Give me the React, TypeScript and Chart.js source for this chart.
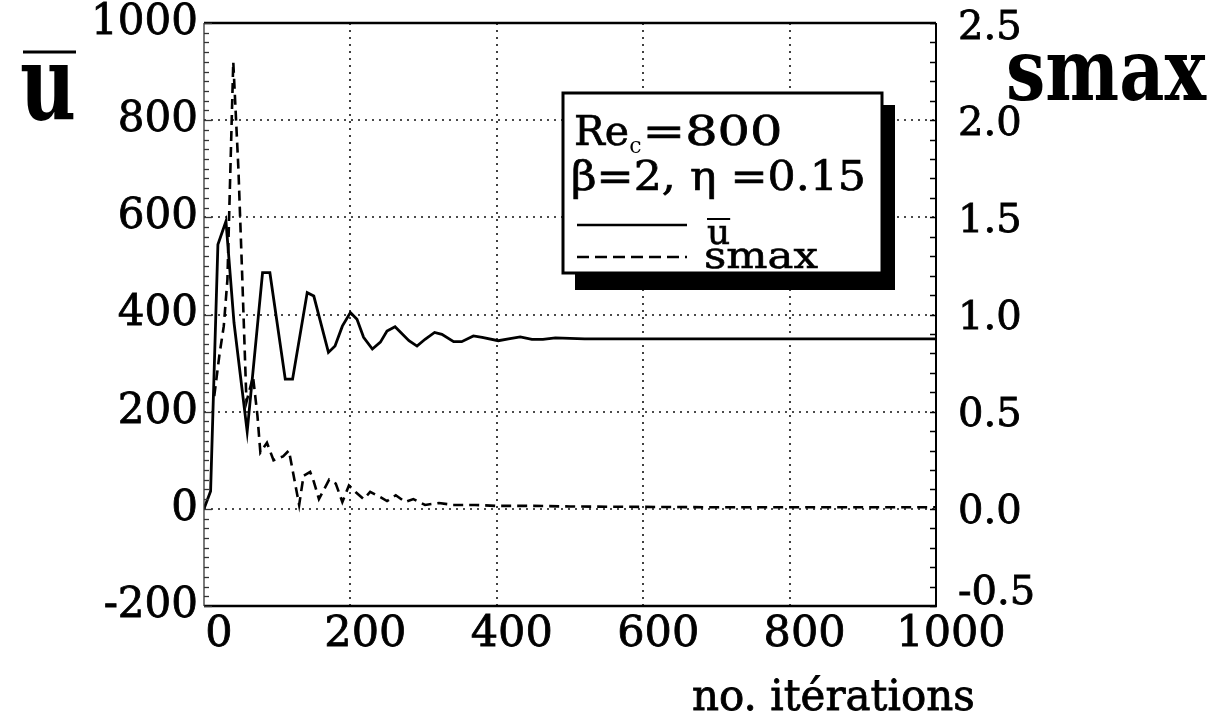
import React, { useEffect, useRef } from "react";
import { Chart, registerables } from "chart.js";

Chart.register(...registerables);

const FONT = "'DejaVu Serif', 'Liberation Serif', serif";

// ū (left axis) versus iteration number
const iterU = [0, 9, 19, 30, 41, 59, 80, 90, 111, 121, 141, 150, 170, 179, 189, 200, 209, 218, 230, 241, 250, 261, 280, 291, 302, 315, 325, 341, 352, 368, 380, 402, 416, 432, 448, 463, 480, 520, 600, 700, 800, 900, 1000];
const uBar = [0, 36, 544, 592, 383, 159, 486, 486, 267, 267, 445, 438, 322, 335, 376, 404, 390, 353, 329, 343, 366, 375, 346, 335, 349, 363, 359, 344, 344, 356, 353, 346, 350, 354, 349, 349, 352, 350, 350, 350, 350, 350, 350];

// smax (right axis) versus iteration number
const iterS = [14, 21, 27, 32, 35, 40, 47, 52, 58, 67, 73, 77, 86, 95, 108, 116, 130, 136, 145, 150, 157, 164, 171, 180, 189, 198, 207, 218, 227, 241, 250, 262, 275, 286, 302, 321, 340, 370, 400, 450, 500, 600, 700, 800, 900, 1000];
const smax = [0.58, 0.79, 0.94, 1.18, 1.6, 2.3, 1.75, 1.22, 0.55, 0.68, 0.48, 0.29, 0.34, 0.25, 0.27, 0.3, 0.02, 0.17, 0.19, 0.14, 0.05, 0.1, 0.15, 0.13, 0.035, 0.12, 0.087, 0.05, 0.087, 0.06, 0.04, 0.07, 0.035, 0.05, 0.02, 0.03, 0.02, 0.02, 0.015, 0.015, 0.012, 0.01, 0.008, 0.008, 0.008, 0.008];

// axes
const xRange = [0, 1000];
const xStep = 200;
const uRange = [-200, 1000];
const uStep = 200;
const sRange = [-0.5, 2.5];
const sStep = 0.5;
const xGrid = [200, 400, 600, 800];
const uGrid = [0, 200, 400, 600, 800];

// texts
const xTitle = "no. itérations";
const uTitle = "u";
const sTitle = "smax";
const legendLine1 = ["Re", "c", "=800"];
const legendLine2 = "β=2, η =0.15";
const legendU = "u";
const legendS = "smax";

function drawScaled(ctx: CanvasRenderingContext2D, text: string, x: number, y: number, font: string, width?: number, stroke = 0) {
  ctx.font = font;
  const m = ctx.measureText(text).width;
  ctx.save();
  ctx.translate(x, y);
  if (width) ctx.scale(width / m, 1);
  ctx.fillText(text, 0, 0);
  if (stroke > 0) {
    ctx.lineWidth = stroke;
    ctx.setLineDash([]);
    ctx.strokeText(text, 0, 0);
  }
  ctx.restore();
  return width ?? m;
}

function seg(ctx: CanvasRenderingContext2D, x1: number, y1: number, x2: number, y2: number) {
  ctx.beginPath();
  ctx.moveTo(x1, y1);
  ctx.lineTo(x2, y2);
  ctx.stroke();
}

const decor = {
  id: "decor",
  beforeDatasetsDraw(chart: any) {
    const { ctx, chartArea: a, scales } = chart;
    ctx.save();
    ctx.strokeStyle = "#111";
    ctx.lineWidth = 1.6;
    ctx.setLineDash([2, 5]);
    for (const v of xGrid) {
      const px = Math.round(scales.x.getPixelForValue(v));
      seg(ctx, px, a.top, px, a.bottom);
    }
    for (const v of uGrid) {
      const py = Math.round(scales.y.getPixelForValue(v));
      seg(ctx, a.left, py, a.right, py);
    }
    ctx.restore();
  },
  afterDraw(chart: any) {
    const { ctx, chartArea: a, scales } = chart;
    ctx.save();
    ctx.strokeStyle = "#000";
    ctx.fillStyle = "#000";
    ctx.setLineDash([]);
    // frame
    ctx.lineWidth = 2.5;
    seg(ctx, a.left, a.top, a.right, a.top);
    seg(ctx, a.left, a.bottom, a.right + 1, a.bottom);
    ctx.lineWidth = 2;
    seg(ctx, a.right, a.top, a.right, a.bottom);
    ctx.lineWidth = 1.3;
    ctx.strokeStyle = "#333";
    seg(ctx, a.left, a.top, a.left, a.bottom);
    // left inward ticks
    for (let v = uRange[0]; v <= uRange[1]; v += 20) {
      const py = Math.round(scales.y.getPixelForValue(v)) + 0.5;
      const len = v % 200 === 0 ? 8 : 5;
      seg(ctx, a.left, py, a.left + len, py);
    }
    // right inward ticks
    ctx.strokeStyle = "#000";
    ctx.lineWidth = 1.5;
    for (let i = 0; i <= 30; i++) {
      const v = sRange[0] + i * 0.1;
      const py = Math.round(scales.y1.getPixelForValue(v)) + 0.5;
      seg(ctx, a.right - 6, py, a.right, py);
    }

    // right axis labels, from the scale's own ticks
    const y1 = scales.y1;
    ctx.textAlign = "left";
    ctx.textBaseline = "middle";
    ctx.font = `40px ${FONT}`;
    ctx.lineWidth = 0.8;
    const n = y1.ticks.length;
    y1.ticks.forEach((t: any, i: number) => {
      const py = y1.getPixelForValue(t.value);
      const off = i === 0 ? -12 : i === n - 1 ? 6 : 4;
      const txt = Number(t.value).toFixed(1);
      ctx.fillText(txt, a.right + 22, py + off);
      ctx.strokeText(txt, a.right + 22, py + off);
    });

    ctx.textAlign = "left";
    ctx.textBaseline = "alphabetic";
    // big ū
    ctx.lineWidth = 3;
    seg(ctx, 23, 52, 76, 52);
    drawScaled(ctx, uTitle, 20, 120, `bold 104px ${FONT}`, 56);
    // big smax
    drawScaled(ctx, sTitle, 1006, 100, `bold 86px ${FONT}`, 200);
    // x title
    drawScaled(ctx, xTitle, 692, 710, `42px ${FONT}`, undefined, 0.8);

    // legend box
    const L = { x: 563, y: 93, w: 319, h: 180 };
    ctx.fillStyle = "#000";
    ctx.fillRect(L.x + 12, L.y + 12, L.w + 1, L.h + 5);
    ctx.fillStyle = "#fff";
    ctx.fillRect(L.x, L.y, L.w, L.h);
    ctx.lineWidth = 3;
    ctx.strokeStyle = "#000";
    ctx.strokeRect(L.x, L.y, L.w, L.h);
    ctx.fillStyle = "#000";
    let cx = 574;
    cx += drawScaled(ctx, legendLine1[0], cx, 145, `41px ${FONT}`, undefined, 0.7);
    const cw = drawScaled(ctx, legendLine1[1], cx, 153, `22px ${FONT}`);
    cx += cw + 1;
    drawScaled(ctx, legendLine1[2], cx, 145, `41px ${FONT}`, 140, 0.7);
    drawScaled(ctx, legendLine2, 571, 190, `41px ${FONT}`, 295, 0.7);
    ctx.lineWidth = 2.5;
    seg(ctx, 577, 225, 687, 225);
    const uw = drawScaled(ctx, legendU, 707, 244, `36px ${FONT}`, undefined, 0.6);
    ctx.lineWidth = 2;
    seg(ctx, 707, 219, 707 + uw, 219);
    ctx.setLineDash([12, 6]);
    ctx.lineWidth = 2.5;
    seg(ctx, 577, 257, 687, 257);
    ctx.setLineDash([]);
    drawScaled(ctx, legendS, 704, 268, `38px ${FONT}`, 114, 0.6);
    ctx.restore();
  },
};

export default function App() {
  const ref = useRef<HTMLCanvasElement>(null);
  useEffect(() => {
    const canvas = ref.current!;
    const chart = new Chart(canvas, {
      type: "line",
      data: {
        datasets: [
          {
            label: "ū",
            data: iterU.map((x, i) => ({ x, y: uBar[i] })),
            yAxisID: "y",
            borderColor: "#000",
            borderWidth: 2.8,
            pointRadius: 0,
            tension: 0,
            fill: false,
          },
          {
            label: "smax",
            data: iterS.map((x, i) => ({ x, y: smax[i] })),
            yAxisID: "y1",
            borderColor: "#000",
            borderWidth: 2.6,
            borderDash: [10, 6],
            pointRadius: 0,
            tension: 0,
            fill: false,
          },
        ],
      },
      options: {
        responsive: false,
        animation: false,
        devicePixelRatio: 1,
        events: [],
        layout: { padding: { top: 23, left: 0, right: 0, bottom: 0 } },
        plugins: { legend: { display: false }, tooltip: { enabled: false }, title: { display: false } },
        scales: {
          x: {
            type: "linear",
            position: "bottom",
            min: xRange[0],
            max: xRange[1],
            ticks: {
              stepSize: xStep,
              font: { family: FONT, size: 43 },
              color: "#000",
              textStrokeColor: "#000",
              textStrokeWidth: 0.8,
              padding: 3,
              labelOffset: 15,
              maxRotation: 0,
              autoSkip: false,
              callback: (v: any) => String(v),
            },
            grid: { display: false, drawTicks: false },
            border: { display: false },
            afterFit: (s: any) => {
              s.height = 120;
              s.paddingLeft = 0;
              s.paddingRight = 0;
            },
          },
          y: {
            type: "linear",
            position: "left",
            min: uRange[0],
            max: uRange[1],
            ticks: {
              stepSize: uStep,
              font: { family: FONT, size: 42 },
              color: "#000",
              textStrokeColor: "#000",
              textStrokeWidth: 0.8,
              padding: 6,
              autoSkip: false,
              callback: (v: any) => String(v),
            },
            grid: { display: false, drawTicks: false },
            border: { display: false },
            afterFit: (s: any) => {
              s.width = 204;
              s.paddingTop = 0;
              s.paddingBottom = 0;
            },
          },
          y1: {
            type: "linear",
            position: "right",
            min: sRange[0],
            max: sRange[1],
            ticks: { stepSize: sStep, display: false, autoSkip: false },
            grid: { display: false, drawTicks: false },
            border: { display: false },
            afterFit: (s: any) => {
              s.width = 286;
              s.paddingTop = 0;
              s.paddingBottom = 0;
            },
          },
        },
      },
      plugins: [decor],
    } as any);
    return () => chart.destroy();
  }, []);
  return (
    <div style={{ position: "absolute", left: 0, top: 0, width: 1222, height: 726, background: "#fff" }}>
      <canvas ref={ref} width={1222} height={726} style={{ display: "block", width: 1222, height: 726 }} />
    </div>
  );
}
